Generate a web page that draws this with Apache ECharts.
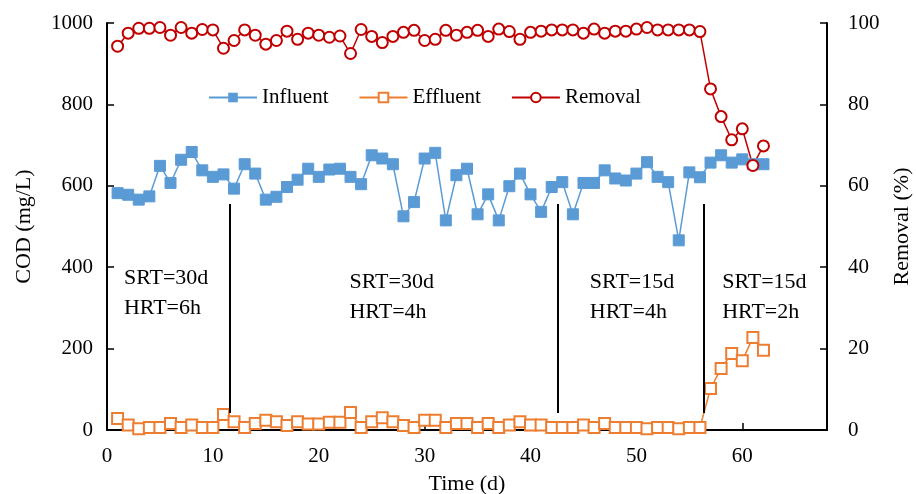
<!DOCTYPE html>
<html>
<head>
<meta charset="utf-8">
<script src="https://cdn.jsdelivr.net/npm/echarts@6/dist/echarts.min.js"></script>
<style>html,body{margin:0;padding:0;background:#fff;}#c{width:916px;height:494px;}</style>
</head>
<body>
<div id="c"></div>
<script>
const days = [1,2,3,4,5,6,7,8,9,10,11,12,13,14,15,16,17,18,19,20,21,22,23,24,25,26,27,28,29,30,31,32,33,34,35,36,37,38,39,40,41,42,43,44,45,46,47,48,49,50,51,52,53,54,55,56,57,58,59,60,61,62];
const influent = [582,578,566,574,649,607,664,683,638,622,628,593,653,630,566,573,597,615,642,622,640,642,622,604,675,667,653,525,560,667,681,515,626,642,530,579,515,599,630,579,536,597,609,530,607,607,638,618,613,630,658,622,609,466,633,621,657,675,657,665,653,653];
const effluent = [28,12,3,6,6,16,6,12,6,6,38,20,6,16,24,20,11,20,15,15,19,19,43,6,20,30,20,11,6,24,24,6,16,16,6,16,6,12,20,12,12,6,6,6,12,6,16,6,6,6,3,6,6,3,6,6,102,151,188,170,227,196];
const removal = [94.3,97.5,98.7,98.7,98.9,97.0,98.9,97.5,98.4,98.3,93.8,95.7,98.3,97.0,94.8,95.7,98.0,96.0,97.5,97.0,96.5,96.8,92.5,98.4,96.7,95.2,96.7,97.7,98.2,95.7,96.0,98.2,97.0,97.7,98.2,96.7,98.5,97.9,96.0,97.7,98.0,98.3,98.3,98.3,97.5,98.5,97.5,98.0,98.0,98.5,98.9,98.3,98.3,98.3,98.3,97.9,83.8,77.0,71.3,74.0,65.0,69.8];
const phaseDays = [11.6, 42.6, 56.4];
const phaseLineRange = [555, 42];
const phaseLabels = [
  {day: 1.6, cod: 336, text: 'SRT=30d\nHRT=6h'},
  {day: 22.9, cod: 326, text: 'SRT=30d\nHRT=4h'},
  {day: 45.6, cod: 326, text: 'SRT=15d\nHRT=4h'},
  {day: 58.1, cod: 326, text: 'SRT=15d\nHRT=2h'}
];
const xTicks = {min: 0, max: 68, interval: 10};
const codTicks = {min: 0, max: 1000, interval: 200};
const remTicks = {min: 0, max: 100, interval: 20};

const FONT = 'Liberation Serif';
const zip = (a) => days.map((d, i) => [d, a[i]]);

const chart = echarts.init(document.getElementById('c'), null, {renderer: 'canvas'});
const axisCommon = {
  axisLine: {show: true, lineStyle: {color: '#000', width: 2}},
  axisTick: {show: true, inside: true, length: 7, lineStyle: {color: '#000', width: 1.5}},
  splitLine: {show: false},
  axisLabel: {color: '#000', fontFamily: FONT, fontSize: 21, formatter: v => String(v)},
  nameTextStyle: {color: '#000', fontFamily: FONT, fontSize: 22}
};
chart.setOption({
  animation: false,
  backgroundColor: '#fff',
  grid: {left: 107, right: 89, top: 23, bottom: 64, containLabel: false, outerBoundsMode: 'none'},
  legend: {
    left: 203, top: 82, itemWidth: 48, itemHeight: 12, itemGap: 30,
    textStyle: {color: '#000', fontFamily: FONT, fontSize: 21},
    data: ['Influent', 'Effluent', 'Removal']
  },
  xAxis: Object.assign({}, axisCommon, {
    type: 'value', min: xTicks.min, max: xTicks.max, interval: xTicks.interval,
    name: 'Time (d)', nameLocation: 'middle', nameGap: 43,
    axisLabel: Object.assign({}, axisCommon.axisLabel, {margin: 16, showMaxLabel: false})
  }),
  yAxis: [
    Object.assign({}, axisCommon, {
      type: 'value', min: codTicks.min, max: codTicks.max, interval: codTicks.interval,
      name: 'COD (mg/L)', nameLocation: 'middle', nameGap: 72,
      axisLabel: Object.assign({}, axisCommon.axisLabel, {margin: 14})
    }),
    Object.assign({}, axisCommon, {
      type: 'value', position: 'right', min: remTicks.min, max: remTicks.max, interval: remTicks.interval,
      name: 'Removal (%)', nameLocation: 'middle', nameGap: 64, nameRotate: 90,
      axisLabel: Object.assign({}, axisCommon.axisLabel, {margin: 21})
    })
  ],
  series: [
    {
      name: 'phases', type: 'line', data: [], silent: true,
      markLine: {
        silent: true, symbol: 'none', label: {show: false},
        lineStyle: {color: '#000', width: 2, type: 'solid'},
        data: phaseDays.map(d => [{coord: [d, phaseLineRange[0]]}, {coord: [d, phaseLineRange[1]]}])
      }
    },
    {
      name: 'labels', type: 'scatter', symbolSize: 0, silent: true,
      itemStyle: {opacity: 1},
      data: phaseLabels.map(p => ({value: [p.day, p.cod], label: {formatter: p.text, color: '#000'}})),
      label: {show: true, position: 'right', distance: 0, align: 'left', verticalAlign: 'middle',
        color: '#000', fontFamily: FONT, fontSize: 22, lineHeight: 30, opacity: 1}
    },
    {
      name: 'Influent', type: 'line', data: zip(influent), yAxisIndex: 0,
      symbol: 'rect', symbolSize: 11,
      lineStyle: {color: '#5B9BD5', width: 1.5},
      itemStyle: {color: '#5B9BD5', borderColor: '#5B9BD5'}
    },
    {
      name: 'Effluent', type: 'line', data: zip(effluent), yAxisIndex: 0,
      symbol: 'rect', symbolSize: 11, showAllSymbol: true,
      lineStyle: {color: '#ED7D31', width: 1.5},
      itemStyle: {color: '#fff', borderColor: '#ED7D31', borderWidth: 2}
    },
    {
      name: 'Removal', type: 'line', data: zip(removal), yAxisIndex: 1,
      symbol: 'circle', symbolSize: 11, showAllSymbol: true,
      lineStyle: {color: '#C00000', width: 1.5},
      itemStyle: {color: '#fff', borderColor: '#C00000', borderWidth: 2}
    }
  ]
});
</script>
</body>
</html>
